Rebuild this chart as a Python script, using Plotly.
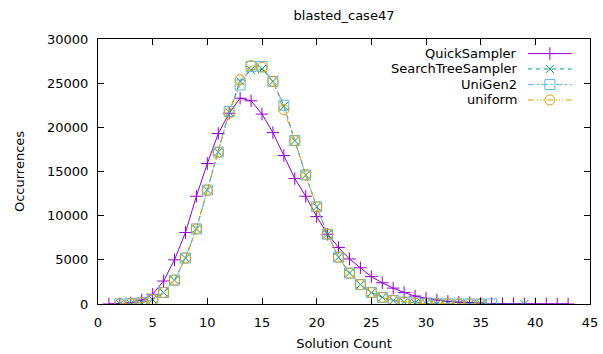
import plotly.graph_objects as go

# ---------------- data ----------------
x_quick = list(range(1, 44))
y_quick = [0, 30, 120, 450, 1100, 2600, 5000, 8100, 12200, 15900,
           19300, 21600, 23300, 23000, 21500, 19400, 16800, 14200, 12200, 9900,
           7900, 6400, 5100, 4100, 3100, 2400, 1800, 1300, 900, 650,
           450, 300, 200, 130, 80, 50, 30, 20, 10, 5,
           3, 2, 1]

x_stree = list(range(2, 36)) + [39]
y_stree = [10, 50, 150, 500, 1300, 2700, 5200, 8500, 12900, 17200,
           21700, 25200, 26500, 26600, 25200, 22400, 18500, 14600, 11000, 7900,
           5300, 3500, 2200, 1300, 750, 400, 220, 120, 60, 30,
           15, 8, 4, 2, 1]

x_unigen = list(range(2, 37))
y_unigen = [10, 50, 150, 500, 1300, 2700, 5200, 8500, 12900, 17200,
            21800, 24800, 26900, 26900, 25200, 22500, 18500, 14600, 11000, 7900,
            5300, 3500, 2200, 1300, 750, 400, 220, 120, 60, 30,
            15, 8, 4, 2, 1]

x_uniform = list(range(2, 36))
y_uniform = [10, 50, 150, 500, 1300, 2700, 5200, 8500, 12900, 17200,
             21600, 25400, 27000, 26800, 25200, 22000, 18500, 14600, 11000, 7900,
             5300, 3500, 2200, 1300, 750, 400, 220, 120, 60, 30,
             15, 8, 4, 2]

x_ticks = list(range(0, 46, 5))
y_ticks = list(range(0, 30001, 5000))
y_ticktext = [str(v) for v in y_ticks]

names = ["QuickSampler", "SearchTreeSampler", "UniGen2", "uniform"]
colors = ["#9400d3", "#009e73", "#56b4e9", "#e69f00"]
symbols = ["cross-thin-open", "x-thin-open", "square-open", "circle-open"]
dashes = ["solid", "4px,4px", "6px,3px,2px,3px", "6px,3px,1px,2px,1px,2px,1px,3px"]
msizes = [9, 8, 10, 10]

xs = [x_quick, x_stree, x_unigen, x_uniform]
ys = [y_quick, y_stree, y_unigen, y_uniform]

FONT = "DejaVu Sans"
fig = go.Figure()

for i in range(4):
    fig.add_trace(go.Scatter(
        x=xs[i], y=ys[i], mode="lines+markers", name=names[i],
        line=dict(color=colors[i], width=1, dash=dashes[i]),
        marker=dict(symbol=symbols[i], size=msizes[i], color=colors[i],
                    line=dict(color=colors[i], width=1)),
        showlegend=False,
    ))

# custom gnuplot-style legend (text left of sample) on an overlay axis
leg_rows = [0.945, 0.887, 0.828, 0.770]
leg_x0, leg_x1, leg_text_x = 0.874, 0.963, 0.856
for i in range(4):
    fig.add_trace(go.Scatter(
        x=[leg_x0, (leg_x0 + leg_x1) / 2, leg_x1], y=[leg_rows[i]] * 3,
        xaxis="x2", yaxis="y2", mode="lines+markers",
        line=dict(color=colors[i], width=1, dash=dashes[i]),
        marker=dict(symbol=symbols[i], size=msizes[i], color=colors[i],
                    opacity=[0, 1, 0], line=dict(color=colors[i], width=1)),
        showlegend=False, hoverinfo="skip",
    ))
    fig.add_annotation(x=leg_text_x, y=leg_rows[i], xref="x2", yref="y2",
                       text=names[i], showarrow=False, xanchor="right",
                       yanchor="middle", font=dict(family=FONT, size=13, color="black"))

axis_common = dict(showline=True, linecolor="black", linewidth=1, mirror="ticks",
                   ticks="inside", ticklen=6, tickcolor="black", showgrid=False,
                   zeroline=False, automargin=False,
                   tickfont=dict(family=FONT, size=13, color="black"))

fig.update_layout(
    width=603, height=354,
    margin=dict(l=98, r=13, t=39, b=50),
    paper_bgcolor="white", plot_bgcolor="white",
    title=dict(text="blasted_case47", x=0.5, xref="paper", xanchor="center",
               y=0.955, yanchor="middle",
               font=dict(family=FONT, size=13, color="black")),
    xaxis=dict(range=[0, 45], tickvals=x_ticks, ticklabelstandoff=6,
               title=dict(text="Solution Count", font=dict(family=FONT, size=13, color="black"),
                          standoff=10),
               **axis_common),
    yaxis=dict(range=[0, 30000], tickvals=y_ticks, ticktext=y_ticktext, ticklabelstandoff=6,
               title=dict(text="Occurrences", font=dict(family=FONT, size=13, color="black"),
                          standoff=19),
               **axis_common),
    xaxis2=dict(overlaying="x", range=[0, 1], visible=False),
    yaxis2=dict(overlaying="y", range=[0, 1], visible=False),
)

fig.write_html("out.html")
